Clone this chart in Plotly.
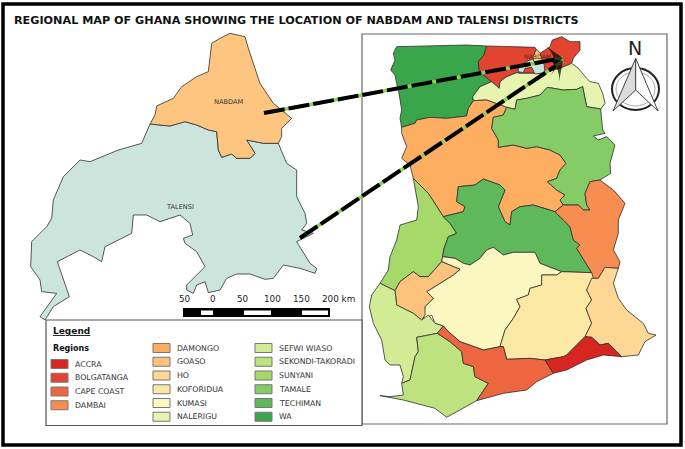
import plotly.graph_objects as go

TITLE = "REGIONAL MAP OF GHANA SHOWING THE LOCATION OF NABDAM AND TALENSI DISTRICTS"

# Region outlines, in map units (3 units per pixel, origin at the map frame corner)
ACCRA = [(555,990),(610,980),(620,975),(650,945),(675,920),(695,922),(720,945),(745,940),(765,960),(785,980),(730,975),(680,990),(650,1005),(620,1020),(580,1030)]
BOLGATANGA = [(380,48),(525,52),(532,70),(540,70),(570,50),(577,30),(605,20),(630,35),(660,35),(660,60),(640,85),(635,100),(600,115),(575,120),(555,125),(540,130),(480,130),(470,128),(440,140),(420,155),(418,175),(395,155),(358,125),(355,95),(372,75)]
CAPE_COAST = [(250,888),(265,905),(300,935),(340,950),(370,960),(420,950),(430,950),(440,988),(510,985),(555,990),(580,1030),(530,1055),(500,1080),(430,1090),(350,1112),(385,1060),(345,1040),(340,1010),(310,1000),(305,965),(270,935),(232,910)]
DAMBAI = [(585,545),(610,525),(655,525),(670,540),(690,540),(680,525),(675,490),(690,455),(720,450),(760,480),(795,520),(775,570),(775,610),(760,660),(780,695),(775,715),(735,712),(715,745),(695,745),(695,728),(650,655),(660,645),(640,630),(630,590),(610,570)]
DAMONGO = [(340,212),(380,210),(440,232),(430,255),(400,262),(395,295),(415,330),(415,352),(460,345),(500,355),(530,350),(570,360),(600,375),(618,400),(600,420),(590,445),(562,455),(590,480),(615,495),(600,510),(610,525),(585,545),(520,525),(480,530),(455,545),(450,585),(435,575),(415,530),(435,480),(420,465),(370,447),(345,465),(295,470),(290,515),(315,530),(310,545),(270,555),(250,560),(205,490),(160,445),(150,405),(125,385),(140,350),(125,310),(125,292),(165,280),(170,270),(210,262),(260,265),(320,258),(325,235)]
GOASO = [(105,782),(120,755),(160,725),(180,740),(205,740),(245,695),(300,718),(280,735),(240,760),(200,785),(220,805),(195,830),(195,855),(185,870),(160,850),(110,825)]
HO = [(695,745),(715,745),(735,712),(775,715),(760,760),(775,805),(800,840),(850,880),(865,910),(888,915),(855,935),(835,975),(785,980),(745,940),(720,945),(695,922),(675,920),(695,880),(678,835),(695,810),(680,780)]
KOFORIDUA = [(545,735),(590,735),(605,725),(695,728),(700,745),(680,780),(695,810),(678,835),(695,880),(675,920),(620,975),(610,980),(555,990),(510,985),(440,988),(430,950),(420,950),(435,900),(460,865),(480,830),(470,808),(505,795),(510,775),(545,765)]
KUMASI = [(248,680),(285,685),(310,700),(330,705),(360,685),(380,660),(400,652),(430,675),(460,667),(525,667),(540,700),(605,725),(590,735),(545,735),(545,765),(510,775),(505,795),(470,808),(480,830),(460,865),(435,900),(420,950),(370,960),(340,950),(300,935),(265,905),(250,888),(225,880),(215,855),(190,870),(195,830),(220,805),(200,785),(240,760),(280,735),(300,718),(245,695)]
NALERIGU = [(338,200),(360,170),(395,155),(418,175),(420,155),(440,140),(470,128),(480,130),(540,130),(575,120),(600,115),(635,100),(655,115),(680,145),(690,155),(715,160),(728,190),(735,220),(722,237),(680,230),(668,170),(650,178),(610,180),(562,172),(540,195),(500,205),(470,210),(465,238),(440,232),(380,210),(340,212)]
SEFWI_WIASO = [(60,760),(105,782),(110,825),(160,850),(185,870),(205,855),(225,880),(250,888),(232,910),(170,922),(175,965),(165,980),(150,1050),(125,1060),(130,1040),(120,1005),(90,1005),(75,990),(65,930),(40,880),(28,830),(35,795)]
SEKONDI_TAKORADI = [(170,922),(232,910),(270,935),(305,965),(310,1000),(340,1010),(345,1040),(385,1060),(350,1112),(300,1140),(260,1162),(225,1135),(130,1110),(60,1097),(90,1100),(130,1095),(125,1060),(150,1050),(165,980),(175,965)]
SUNYANI = [(160,445),(175,530),(170,570),(120,585),(110,630),(90,680),(85,720),(60,760),(105,782),(120,755),(160,725),(180,740),(205,740),(245,695),(248,680),(252,655),(260,635),(265,620),(290,610),(270,580),(250,560),(205,490)]
TAMALE = [(562,172),(610,180),(650,178),(668,170),(680,230),(722,237),(728,300),(735,310),(700,318),(715,330),(740,320),(765,345),(750,400),(752,430),(720,450),(690,455),(675,490),(680,525),(690,540),(670,540),(655,525),(610,525),(600,510),(615,495),(590,480),(562,455),(590,445),(600,420),(618,400),(600,375),(570,360),(530,350),(500,355),(460,345),(415,352),(415,330),(395,295),(400,262),(430,255),(440,232),(465,238),(470,210),(500,205),(540,195)]
TECHIMAN = [(295,470),(345,465),(370,447),(420,465),(435,480),(415,530),(435,575),(450,585),(455,545),(480,530),(520,525),(585,545),(610,570),(630,590),(640,630),(660,645),(650,655),(695,728),(605,725),(540,700),(525,667),(460,667),(430,675),(400,652),(380,660),(360,685),(330,705),(310,700),(285,685),(248,680),(252,655),(260,635),(265,620),(290,610),(270,580),(250,560),(270,555),(310,545),(315,530),(290,515)]
WA = [(110,50),(200,48),(320,45),(380,48),(372,75),(355,95),(358,125),(395,155),(360,170),(338,200),(340,212),(325,235),(320,258),(260,265),(210,262),(170,270),(165,280),(125,292),(120,265),(125,240),(118,195),(110,160),(105,135),(92,120),(105,90),(100,70)]

# Small copies of the two districts inside the Ghana map
GHANA_NABDAM = [(530,58),(540,68),(548,95),(535,103),(522,98),(518,80)]
GHANA_TALENSI = [(518,88),(535,98),(552,100),(555,128),(525,132),(515,112),(495,115),(490,128),(475,125),(475,110),(505,92)]

# District outlines for the enlarged map, in map units (3 units per pixel)
NABDAM = [(690,100),(735,110),(745,145),(760,190),(780,250),(820,310),(875,355),(845,385),(845,410),(835,430),(790,430),(740,420),(765,460),(750,475),(710,475),(695,462),(665,472),(655,450),(650,395),(625,390),(590,375),(555,365),(510,378),(450,372),(465,345),(470,318),(520,295),(545,260),(590,230),(625,215),(635,130),(660,115)]
TALENSI = [(450,372),(510,378),(555,365),(590,375),(625,390),(650,395),(655,450),(665,472),(695,462),(710,475),(750,475),(765,460),(740,420),(790,430),(835,430),(860,490),(890,510),(890,590),(915,640),(920,670),(905,690),(940,700),(890,725),(930,790),(950,805),(945,820),(900,805),(850,795),(820,835),(795,838),(750,822),(710,822),(680,835),(660,870),(625,878),(615,845),(590,855),(580,880),(560,870),(560,855),(615,800),(590,755),(555,730),(550,715),(578,705),(570,670),(540,645),(480,665),(440,645),(400,645),(395,700),(315,740),(305,785),(280,770),(240,750),(172,785),(208,890),(160,920),(135,960),(120,950),(170,880),(125,875),(120,840),(92,800),(95,725),(140,680),(155,655),(160,600),(190,530),(240,480),(270,485),(355,450),(425,430),(445,380)]

# Legend
LEGEND_COL1 = ["ACCRA", "BOLGATANGA", "CAPE COAST", "DAMBAI"]
LEGEND_COL2 = ["DAMONGO", "GOASO", "HO", "KOFORIDUA", "KUMASI", "NALERIGU"]
LEGEND_COL3 = ["SEFWI WIASO", "SEKONDI-TAKORADI", "SUNYANI", "TAMALE", "TECHIMAN", "WA"]

COLORS = {"ACCRA":"#d7261f","BOLGATANGA":"#e34432","CAPE COAST":"#ee6640","DAMBAI":"#f88d52",
          "DAMONGO":"#fdae61","GOASO":"#fdc27b","HO":"#fed795","KOFORIDUA":"#fce8a5","KUMASI":"#faf7c0",
          "NALERIGU":"#e6f4b0","SEFWI WIASO":"#d2ec95","SEKONDI-TAKORADI":"#bee27d","SUNYANI":"#a6d96a",
          "TAMALE":"#85cb66","TECHIMAN":"#5fb95a","WA":"#3aa64c"}

REGIONS = {"WA":WA,"BOLGATANGA":BOLGATANGA,"NALERIGU":NALERIGU,"DAMONGO":DAMONGO,"TAMALE":TAMALE,
           "SUNYANI":SUNYANI,"TECHIMAN":TECHIMAN,"DAMBAI":DAMBAI,"KUMASI":KUMASI,"GOASO":GOASO,
           "KOFORIDUA":KOFORIDUA,"HO":HO,"SEFWI WIASO":SEFWI_WIASO,"SEKONDI-TAKORADI":SEKONDI_TAKORADI,
           "CAPE COAST":CAPE_COAST,"ACCRA":ACCRA}

SCALE_LABELS = ["50", "0", "50", "100", "150", "200 km"]
SCALE_LABEL_X = [185, 213, 243, 272, 301, 338]

ARROW1 = [(264, 113), (563, 58)]
ARROW2 = [(300, 238), (563, 61)]

def ghana(pts):
    return [360 + x / 3 for x, y in pts], [30 + y / 3 for x, y in pts]

def district(pts):
    return [x / 3 for x, y in pts], [y / 3 for x, y in pts]

fig = go.Figure()

def poly(xy, color, name):
    x, y = xy
    fig.add_trace(go.Scatter(x=x + x[:1], y=y + y[:1], mode="lines", fill="toself", fillcolor=color,
                             line=dict(color="#2f2f2f", width=0.8), name=name, hoverinfo="name"))

for name, pts in REGIONS.items():
    poly(ghana(pts), COLORS[name], name)
poly(ghana(GHANA_TALENSI), "#cce5dc", "Talensi")
poly(ghana(GHANA_NABDAM), "#fdc57f", "Nabdam")
poly(district(TALENSI), "#cce5dc", "Talensi")
poly(district(NABDAM), "#fdc57f", "Nabdam")

# Arrows: a green line under a dashed black one
for arrow in (ARROW1, ARROW2):
    ax, ay = zip(*arrow)
    fig.add_trace(go.Scatter(x=ax, y=ay, mode="lines", line=dict(color="#8fd14f", width=3.5), hoverinfo="skip"))
    fig.add_trace(go.Scatter(x=ax, y=ay, mode="lines+markers", line=dict(color="black", width=4, dash="21px,4px"),
                             marker=dict(symbol="arrow-wide", size=[0, 22], angleref="previous", color="black",
                                         line=dict(width=0)),
                             hoverinfo="skip"))

shapes = []
def rect(x0, y0, x1, y1, fill="rgba(0,0,0,0)", line="#555", w=1, layer="above"):
    shapes.append(dict(type="rect", x0=x0, y0=y0, x1=x1, y1=y1, fillcolor=fill,
                       line=dict(color=line, width=w), layer=layer))

rect(3, 4, 681, 445, line="black", w=3.5, layer="below")   # outer border
rect(362, 34, 667, 424, line="#666", w=1.2, layer="below")  # Ghana map frame
rect(46, 320, 362, 425.5, fill="white", line="#555", w=1.2, layer="below")  # legend box

# Scale bar
rect(183, 308, 330, 317, fill="black", line="black", w=0)
for x0, x1 in ((201, 213), (244, 271), (302, 328)):
    rect(x0, 310.5, x1, 315, fill="white", line="white", w=0)

# North arrow
shapes.append(dict(type="circle", x0=612, y0=68, x1=659, y1=110, line=dict(color="#222", width=2), fillcolor="white"))
shapes.append(dict(type="circle", x0=616, y0=72, x1=655, y1=106, line=dict(color="#aaa", width=1), fillcolor="white"))

annotations = []
def text(x, y, s, size, color="#333", anchor="left", bold=False, underline=False, family="DejaVu Sans"):
    if bold:
        s = f"<b>{s}</b>"
    if underline:
        s = f"<u>{s}</u>"
    annotations.append(dict(x=x, y=y, text=s, showarrow=False, xanchor=anchor, yanchor="middle",
                            font=dict(size=size, color=color, family=family), xshift=0, yshift=0))

text(12, 20, TITLE, 11.2, color="#111", bold=True)
text(228, 101.5, "NABDAM", 6.6, color="#333", anchor="center")
text(180, 207, "TALENSI", 6.6, color="#333", anchor="center")
text(537, 56, "NABDAM", 6.2, color="#5a2a1a", anchor="center")
text(635, 48, "N", 19, color="#222", anchor="center")
for x, s in zip(SCALE_LABEL_X, SCALE_LABELS):
    text(x, 298.5, s, 8.8, color="#222", anchor="center")

text(51, 330.5, "Legend", 9, color="#111", bold=True, underline=True)
text(51, 348.5, "Regions", 8, color="#111", bold=True)

for names, sx, tx, y0 in ((LEGEND_COL1, 51, 73, 364), (LEGEND_COL2, 153, 175, 348), (LEGEND_COL3, 255, 277, 348)):
    for i, name in enumerate(names):
        y = y0 + i * 13.75
        rect(sx, y - 4.5, sx + 17, y + 4.5, fill=COLORS[name], line="#777", w=1, layer="below")
        text(tx, y, name, 7.8)

# North arrow faces
NORTH_LEFT = [(635.7, 58.5), (635.7, 90), (613, 111)]
NORTH_RIGHT = [(635.7, 58.5), (658, 111), (635.7, 90)]
for pts, c in ((NORTH_LEFT, "#dcdcdc"), (NORTH_RIGHT, "#ffffff")):
    path = "M " + " L ".join(f"{x},{y}" for x, y in pts) + " Z"
    shapes.append(dict(type="path", path=path, fillcolor=c, line=dict(color="#444", width=1), layer="above"))

fig.update_layout(width=685, height=449, margin=dict(l=0, r=0, t=0, b=0),
                  paper_bgcolor="white", plot_bgcolor="white", showlegend=False,
                  xaxis=dict(range=[0, 685], visible=False, fixedrange=True),
                  yaxis=dict(range=[449, 0], visible=False, fixedrange=True),
                  shapes=shapes, annotations=annotations)

fig.write_html("out.html", config={"displayModeBar": False},
               post_script="document.body.style.margin='0';document.body.style.overflow='hidden';")
